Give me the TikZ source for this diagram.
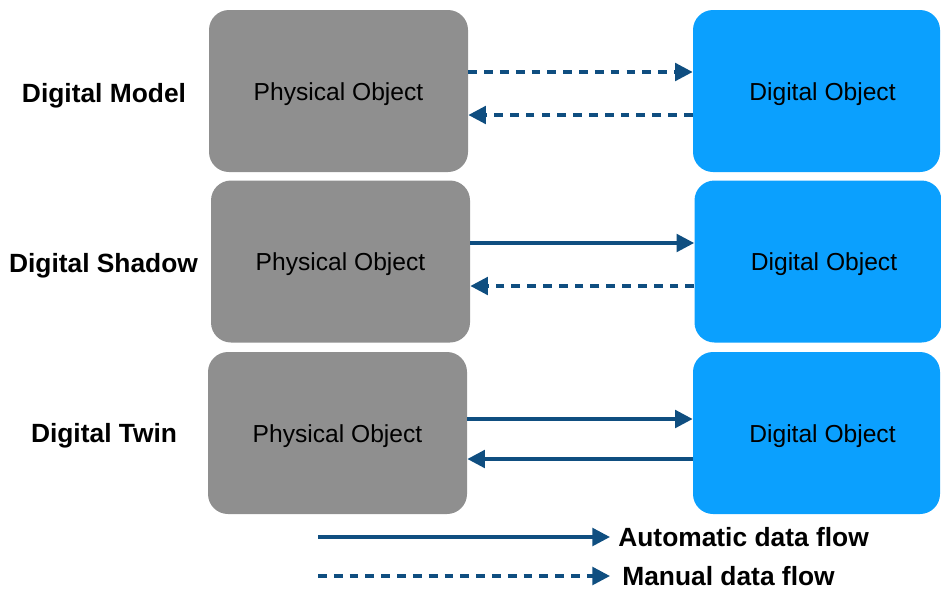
\documentclass[tikz,border=0pt]{standalone}
\usepackage{fontspec}
\setmainfont{Liberation Sans}
\usepackage{tikz}
\usetikzlibrary{arrows.meta}
\definecolor{physgray}{HTML}{8F8F8F}
\definecolor{digiblue}{HTML}{0BA0FE}
\definecolor{flowblue}{HTML}{0F4E80}
\tikzset{
	phys/.style={rectangle, rounded corners=0.4cm, fill=physgray, minimum width=5.18cm, minimum height=3.24cm},
	digi/.style={rectangle, rounded corners=0.4cm, fill=digiblue, minimum width=4.94cm, minimum height=3.24cm},
	boxtext/.style={font=\fontsize{14}{16}\selectfont, yshift=-0.06cm},
	rowlabel/.style={font=\bfseries\fontsize{15}{17}\selectfont},
	autoflow/.style={draw=flowblue, line width=2pt, -{Triangle[length=10pt,width=10pt]}},
	manualflow/.style={autoflow, dash pattern=on 5pt off 4pt}
}
\begin{document}
\begin{tikzpicture}
			\useasboundingbox (0,0) rectangle (18.82,-11.8);
			\node[phys] (p1) [label={[boxtext]center:Physical Object}] at (6.77,-1.82) {};
			\node[digi] (d1) [label={[boxtext, xshift=0.12cm]center:Digital Object}] at (16.33,-1.82) {};
			\node[phys] (p2) [label={[boxtext]center:Physical Object}] at (6.81,-5.23) {};
			\node[digi] (d2) [label={[boxtext, xshift=0.12cm]center:Digital Object}] at (16.36,-5.23) {};
			\node[phys] (p3) [label={[boxtext]center:Physical Object}] at (6.75,-8.66) {};
			\node[digi] (d3) [label={[boxtext, xshift=0.12cm]center:Digital Object}] at (16.33,-8.66) {};
			\node[rowlabel] (l1) at (2.08,-1.92) {Digital Model};
			\node[rowlabel] (l2) at (2.07,-5.32) {Digital Shadow};
			\node[rowlabel] (l3) at (2.08,-8.72) {Digital Twin};
			\draw[manualflow] ([yshift=0.38cm]p1.east) -- ([yshift=0.38cm]d1.west);
			\draw[manualflow] ([yshift=-0.48cm]d1.west) -- ([yshift=-0.48cm]p1.east);
			\draw[autoflow] ([yshift=0.37cm]p2.east) -- ([yshift=0.37cm]d2.west);
			\draw[manualflow] ([yshift=-0.49cm]d2.west) -- ([yshift=-0.49cm]p2.east);
			\draw[autoflow] ([yshift=0.28cm]p3.east) -- ([yshift=0.28cm]d3.west);
			\draw[autoflow] ([yshift=-0.52cm]d3.west) -- ([yshift=-0.52cm]p3.east);
			\coordinate (a0) at (6.36,-10.74);
			\node[rowlabel, anchor=west, inner sep=0] (a1) at (12.36,-10.74) {Automatic data flow};
			\coordinate (m0) at (6.36,-11.52);
			\node[rowlabel, anchor=west, inner sep=0] (m1) at (12.44,-11.52) {Manual data flow};
			\draw[autoflow] (a0) -- ([xshift=-0.16cm]a1.west);
			\draw[manualflow] (m0) -- ([xshift=-0.24cm]m1.west);
		\end{tikzpicture}
\end{document}
